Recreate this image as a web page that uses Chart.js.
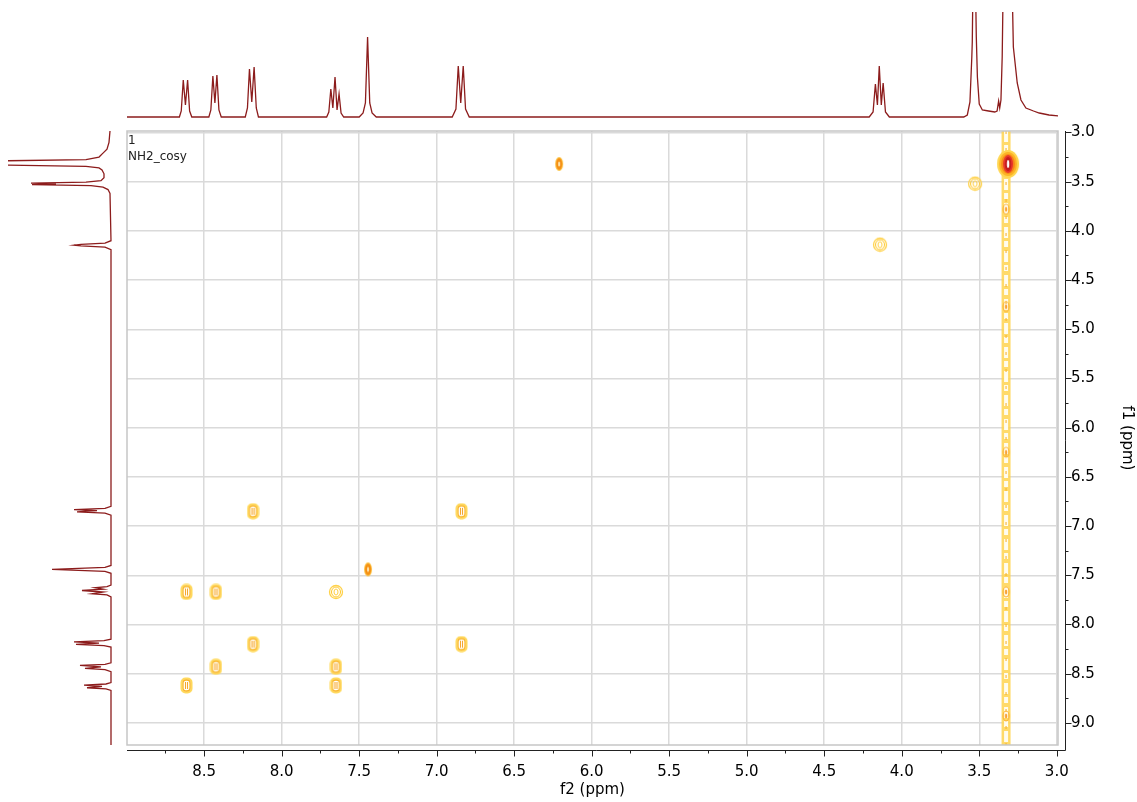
<!DOCTYPE html>
<html>
<head>
<meta charset="utf-8">
<title>NH2_cosy</title>
<script src="https://cdn.jsdelivr.net/npm/chart.js@4.4.0/dist/chart.umd.min.js"></script>
<style>
    body { margin: 0; background: #fff; width: 1137px; height: 802px; overflow: hidden; position: relative; font-family: "DejaVu Sans", sans-serif; }
    canvas { position: absolute; }
    #main { left: 0; top: 0; }
    #topProj { left: 127px; top: 12px; }
    #leftProj { left: 8px; top: 131px; }
    #label { position: absolute; left: 128px; top: 132px; font-size: 12px; line-height: 16px; color: #222; }
</style>
</head>
<body>
<canvas id="main" width="1137" height="802"></canvas>
<canvas id="topProj" width="931" height="110"></canvas>
<canvas id="leftProj" width="109" height="614"></canvas>
<div id="label">1<br>NH2_cosy</div>
<script>
// axis ranges and tick labels (ppm)
const f2Range = [2.992, 8.998];
const f1Range = [2.985, 9.225];
const f2Ticks = [8.5, 8.0, 7.5, 7.0, 6.5, 6.0, 5.5, 5.0, 4.5, 4.0, 3.5, 3.0];
const f1Ticks = [3.0, 3.5, 4.0, 4.5, 5.0, 5.5, 6.0, 6.5, 7.0, 7.5, 8.0, 8.5, 9.0];

// f2 projection (top trace): ppm / height above baseline
const topPpm = [9.0, 8.66, 8.648, 8.635, 8.621, 8.607, 8.594, 8.58,
    8.47, 8.457, 8.444, 8.431, 8.418, 8.405, 8.39,
    8.235, 8.221, 8.208, 8.193, 8.178, 8.164, 8.15,
    7.71, 7.696, 7.683, 7.670, 7.656, 7.643, 7.630, 7.617, 7.60,
    7.50, 7.475, 7.46, 7.446, 7.432, 7.417, 7.39,
    6.90, 6.876, 6.861, 6.845, 6.829, 6.814, 6.79,
    4.21, 4.185, 4.17, 4.157, 4.145, 4.132, 4.12, 4.105, 4.08,
    3.60, 3.577, 3.56, 3.548, 3.545, 3.54, 3.532, 3.525, 3.519, 3.512, 3.50, 3.48, 3.44, 3.40,
    3.385, 3.375, 3.368, 3.36, 3.352, 3.345, 3.31, 3.289, 3.28, 3.255, 3.231, 3.199, 3.15, 3.113, 3.05, 2.99];
const topInt = [0, 0, 6, 37, 12, 37, 6, 0,
    0, 7, 41, 14, 42, 7, 0,
    0, 9, 48, 15, 50, 9, 0,
    0, 5, 28, 9, 40, 7, 23, 4, 0,
    0, 4, 14, 80, 14, 4, 0,
    0, 8, 51, 14, 51, 8, 0,
    0, 5, 33, 12, 51, 12, 34, 5, 0,
    0, 2, 15, 60, 75, 140, 150, 140, 80, 40, 13, 7, 6, 5,
    6, 16, 9, 17, 60, 140, 160, 140, 70, 34, 17, 9, 6, 4, 2, 1];

// f1 projection (left trace)
const leftPpm = [2.985, 3.10, 3.17, 3.21, 3.25, 3.275, 3.29, 3.31, 3.33, 3.345, 3.36, 3.38, 3.42, 3.46, 3.49, 3.505, 3.515, 3.522, 3.53, 3.54, 3.555, 3.58, 3.62,
    4.10, 4.125, 4.137, 4.145, 4.153, 4.165, 4.19,
    6.80, 6.82, 6.832, 6.844, 6.856, 6.868, 6.89,
    7.40, 7.42, 7.44, 7.46, 7.48,
    7.60, 7.615, 7.627, 7.641, 7.655, 7.671, 7.688, 7.70, 7.72,
    8.15, 8.165, 8.176, 8.19, 8.203, 8.215, 8.23,
    8.39, 8.405, 8.416, 8.432, 8.447, 8.46, 8.48,
    8.59, 8.605, 8.616, 8.63, 8.643, 8.655, 8.67, 9.225];
const leftInt = [1, 2, 4, 8, 12, 25, 120, 130, 120, 25, 12, 9, 7, 7, 10, 25, 80, 55, 79, 20, 8, 3, 1,
    0, 6, 30, 37, 30, 6, 0,
    0, 6, 37, 14, 34, 6, 0,
    0, 6, 59, 6, 0,
    0, 4, 16, 8, 29, 8, 19, 4, 0,
    0, 7, 37, 12, 35, 7, 0,
    0, 6, 31, 10, 26, 6, 0,
    0, 5, 27, 9, 24, 5, 0, 0];

// cross peaks (f2, f1)
const strongF2 = [6.21, 7.443];
const strongF1 = [3.32, 7.44];
const doubletF2 = [8.185, 6.84, 8.614, 8.424, 8.185, 6.84, 8.424, 7.65, 8.614, 7.65];
const doubletF1 = [6.85, 6.85, 7.67, 7.67, 8.20, 8.20, 8.43, 8.43, 8.62, 8.62];
const weakF2 = [3.527, 4.14, 7.65];
const weakF1 = [3.52, 4.14, 7.67];
const waterF2 = [3.314];
const waterF1 = [3.32];
// t1 noise ridge of the water line
const ridgeF2 = [3.327, 3.327];
const ridgeF1 = [2.985, 9.225];
const ridgeSpotF1 = [3.78, 4.77, 6.25, 7.67, 8.93];

const traceColor = '#8c1c1c';

Chart.defaults.font.family = '"DejaVu Sans", sans-serif';
Chart.defaults.font.size = 15;
Chart.defaults.color = '#000';
Chart.defaults.animation = false;

function pts(xs, ys) {
    return xs.map((v, i) => ({ x: v, y: ys[i] }));
}

// small canvases used as contour-like point styles
function ellipses(w, h, rings) {
    const c = document.createElement('canvas');
    c.width = w; c.height = h;
    const ctx = c.getContext('2d');
    rings.forEach(r => {
        ctx.beginPath();
        ctx.ellipse(w / 2, h / 2, r[0], r[1], 0, 0, Math.PI * 2);
        if (r[3] === 'fill') {
            ctx.fillStyle = r[2]; ctx.fill();
        } else {
            ctx.strokeStyle = r[2]; ctx.lineWidth = r[3] || 1.2; ctx.stroke();
        }
    });
    return c;
}

function doubletStyle() {
    const c = document.createElement('canvas');
    c.width = 13; c.height = 17;
    const ctx = c.getContext('2d');
    ctx.strokeStyle = '#ffd95c'; ctx.lineWidth = 2;
    ctx.beginPath(); ctx.roundRect(1.5, 1.5, 10, 14, 4); ctx.stroke();
    ctx.strokeStyle = '#f9b425'; ctx.lineWidth = 1.3;
    ctx.beginPath(); ctx.roundRect(3, 3, 7, 11, 3); ctx.stroke();
    ctx.strokeStyle = '#f6a21e'; ctx.lineWidth = 1;
    ctx.beginPath();
    ctx.moveTo(5.5, 5); ctx.lineTo(5.5, 12);
    ctx.moveTo(7.5, 5); ctx.lineTo(7.5, 12);
    ctx.stroke();
    return c;
}

const strongImg = ellipses(10, 16, [[4, 7, '#fcc64a', 'fill'], [3.2, 6, '#f79a1c', 'fill'], [2, 4.5, '#f48a12', 1], [0.9, 2.6, '#fff1c8', 'fill']]);
const weakImg = ellipses(16, 16, [[6.5, 6.5, '#ffd24a', 1.3], [4.5, 5, '#ffc628', 1], [2, 3, '#ffcf40', 1]]);
const waterImg = ellipses(28, 34, [[11, 14, '#ffd650', 'fill'], [9, 12, '#fdb326', 'fill'], [7, 10, '#f7891a', 'fill'], [5, 9, '#e8352b', 'fill'], [3.2, 7, '#c41d1d', 'fill'], [1.2, 4, '#ffffff', 'fill']]);
const spotImg = ellipses(10, 14, [[3, 5, '#fbb43a', 1.2], [1.2, 2.5, '#f7a23a', 'fill']]);

// gray frame + offset black axes with minor ticks
const nmrAxes = {
    id: 'nmrAxes',
    afterDraw(chart) {
        const { ctx, chartArea: a, scales: { x, y } } = chart;
        ctx.save();
        ctx.strokeStyle = '#c6c6c6';
        ctx.lineWidth = 1.5;
        ctx.strokeRect(a.left, a.top, a.right - a.left, a.bottom - a.top);

        const by = a.bottom + 5.5;
        const rx = a.right + 7.5;
        ctx.strokeStyle = '#222';
        ctx.lineWidth = 1;
        ctx.beginPath();
        ctx.moveTo(a.left, by); ctx.lineTo(rx, by);
        ctx.moveTo(rx, a.top); ctx.lineTo(rx, by);
        f2Ticks.forEach(v => {
            const px = Math.round(x.getPixelForValue(v)) + 0.5;
            ctx.moveTo(px, by); ctx.lineTo(px, by + 6);
            const m = x.getPixelForValue(v + 0.25);
            if (m >= a.left) { ctx.moveTo(Math.round(m) + 0.5, by); ctx.lineTo(Math.round(m) + 0.5, by + 3); }
        });
        f1Ticks.forEach(v => {
            const py = Math.round(y.getPixelForValue(v)) + 0.5;
            ctx.moveTo(rx, py); ctx.lineTo(rx + 6, py);
            const m = y.getPixelForValue(v + 0.25);
            if (m <= a.bottom) { ctx.moveTo(rx, Math.round(m) + 0.5); ctx.lineTo(rx + 3, Math.round(m) + 0.5); }
        });
        ctx.stroke();
        ctx.restore();
    }
};

// Chart.js paints dataset 0 last, so the list runs from top layer to bottom layer
new Chart(document.getElementById('main'), {
    type: 'scatter',
    data: {
        datasets: [{
            data: pts(waterF2, waterF1),
            pointStyle: waterImg, pointRadius: 5
        }, {
            data: pts(strongF2, strongF1),
            pointStyle: strongImg, pointRadius: 5
        }, {
            data: pts(doubletF2, doubletF1),
            pointStyle: doubletStyle(), pointRadius: 5
        }, {
            data: pts(weakF2, weakF1),
            pointStyle: weakImg, pointRadius: 5
        }, {
            data: ridgeSpotF1.map(v => ({ x: ridgeF2[0], y: v })),
            pointStyle: spotImg, pointRadius: 5
        }, {
            data: pts(ridgeF2, ridgeF1),
            showLine: true, pointRadius: 0,
            borderColor: 'rgba(247, 178, 50, 0.7)', borderWidth: 1.5, borderDash: [3, 14]
        }, {
            data: pts(ridgeF2, ridgeF1),
            showLine: true, pointRadius: 0,
            borderColor: '#fffcef', borderWidth: 4, borderDash: [11, 3, 6, 4]
        }, {
            data: pts(ridgeF2, ridgeF1),
            showLine: true, pointRadius: 0,
            borderColor: 'rgba(255, 212, 80, 0.85)', borderWidth: 9
        }]
    },
    options: {
        responsive: false,
        events: [],
        layout: { padding: { left: 127, top: 131, right: 1, bottom: 3 } },
        plugins: { legend: { display: false }, tooltip: { enabled: false } },
        scales: {
            x: {
                type: 'linear', position: 'bottom', reverse: true,
                min: f2Range[0], max: f2Range[1],
                afterBuildTicks: s => { s.ticks = f2Ticks.map(v => ({ value: v })); },
                afterFit: s => { s.height = 54; },
                grid: { color: '#dadada', lineWidth: 1.5, drawTicks: false },
                border: { display: false },
                ticks: { padding: 18, autoSkip: false, maxRotation: 0, callback: v => v.toFixed(1) },
                title: { display: true, text: 'f2 (ppm)', padding: 0 }
            },
            y: {
                type: 'linear', position: 'right', reverse: true,
                min: f1Range[0], max: f1Range[1],
                afterBuildTicks: s => { s.ticks = f1Ticks.map(v => ({ value: v })); },
                afterFit: s => { s.width = 78; },
                grid: { color: '#dadada', lineWidth: 1.5, drawTicks: false },
                border: { display: false },
                ticks: { padding: 13, autoSkip: false, callback: v => v.toFixed(1) },
                title: { display: true, text: 'f1 (ppm)', padding: 0 }
            }
        }
    },
    plugins: [nmrAxes]
});

// f2 projection on top
new Chart(document.getElementById('topProj'), {
    type: 'scatter',
    data: {
        datasets: [{
            data: pts(topPpm, topInt),
            showLine: true, pointRadius: 0,
            borderColor: traceColor, borderWidth: 1.3
        }]
    },
    options: {
        responsive: false,
        events: [],
        layout: { padding: 0 },
        plugins: { legend: { display: false }, tooltip: { enabled: false } },
        scales: {
            x: { type: 'linear', display: false, reverse: true, min: f2Range[0], max: f2Range[1] },
            y: { type: 'linear', display: false, min: -5, max: 105 }
        }
    }
});

// f1 projection on the left
new Chart(document.getElementById('leftProj'), {
    type: 'scatter',
    data: {
        datasets: [{
            data: pts(leftInt, leftPpm),
            showLine: true, pointRadius: 0,
            borderColor: traceColor, borderWidth: 1.3
        }]
    },
    options: {
        responsive: false,
        events: [],
        layout: { padding: 0 },
        plugins: { legend: { display: false }, tooltip: { enabled: false } },
        scales: {
            x: { type: 'linear', display: false, reverse: true, min: -6, max: 103 },
            y: { type: 'linear', display: false, reverse: true, min: f1Range[0], max: f1Range[1] }
        }
    }
});
</script>
</body>
</html>
